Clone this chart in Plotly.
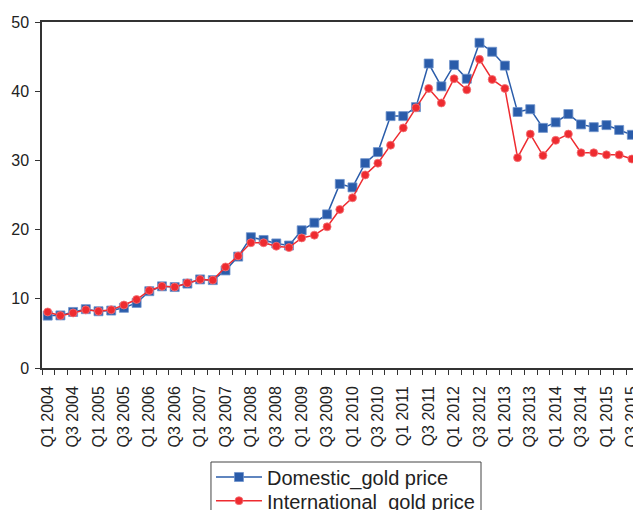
import plotly.graph_objects as go

years = list(range(2004, 2016))
quarters = [f"Q{q} {y}" for y in years for q in (1, 2, 3, 4)]

domestic = [
    7.57, 7.6, 8.1, 8.5,
    8.2, 8.3, 8.7, 9.4,
    11.1, 11.8, 11.7, 12.2,
    12.8, 12.7, 14.1, 16.1,
    18.9, 18.5, 18.0, 17.7,
    19.9, 21.0, 22.2, 26.6,
    26.1, 29.6, 31.2, 36.4,
    36.4, 37.7, 44.0, 40.7,
    43.8, 41.8, 47.0, 45.7,
    43.7, 37.0, 37.4, 34.7,
    35.5, 36.7, 35.2, 34.8,
    35.1, 34.4, 33.7, 32.0,
]
international = [
    8.1, 7.57, 7.96, 8.4,
    8.2, 8.4, 9.1, 9.9,
    11.2, 11.8, 11.7, 12.3,
    12.8, 12.7, 14.6, 16.2,
    18.1, 18.1, 17.6, 17.4,
    18.8, 19.2, 20.4, 22.9,
    24.6, 27.9, 29.6, 32.2,
    34.7, 37.6, 40.4, 38.3,
    41.8, 40.2, 44.6, 41.7,
    40.4, 30.4, 33.8, 30.7,
    32.9, 33.8, 31.1, 31.1,
    30.8, 30.8, 30.2, 28.8,
]
y_ticks = [0, 10, 20, 30, 40, 50]

idx = list(range(len(quarters)))
label_vals = [i for i in idx if i % 2 == 0]
label_text = [quarters[i] for i in label_vals]
tick_marks = [i - 0.45 for i in idx]

fig = go.Figure()
fig.add_trace(go.Scatter(
    x=idx, y=domestic, name="Domestic_gold price", mode="lines+markers",
    line=dict(color="#2A5CAA", width=1.5),
    marker=dict(symbol="square", size=9, color="#2A5CAA",
                line=dict(color="#6F93CC", width=0.8)),
    legend="legend",
))
fig.add_trace(go.Scatter(
    x=idx, y=international, name="International_gold price", mode="lines+markers",
    line=dict(color="#EE2B30", width=1.5),
    marker=dict(symbol="circle", size=8, color="#EE2B30",
                line=dict(color="#F47478", width=0.8)),
    legend="legend2",
))

leg_common = dict(
    xanchor="left", yanchor="middle",
    bgcolor="rgba(0,0,0,0)", borderwidth=0,
    font=dict(size=20, color="#222222"),
    itemwidth=46,
)

fig.update_layout(
    width=633, height=502,
    margin=dict(l=34, r=0, t=14, b=142, autoexpand=False),
    paper_bgcolor="white", plot_bgcolor="white",
    font=dict(family="Liberation Sans, Arial, sans-serif", color="#222222"),
    showlegend=True,
    legend=dict(x=0.2821, y=-0.315, **leg_common),
    legend2=dict(x=0.2821, y=-0.3835, **leg_common),
    shapes=[dict(
        type="rect", xref="paper", yref="paper",
        x0=0.2821, x1=0.7329, y0=-0.4538, y1=-0.2717,
        line=dict(color="#444444", width=1), fillcolor="rgba(0,0,0,0)",
        layer="below",
    )],
)
fig.update_xaxes(
    range=[-0.45, 46.72],
    tickmode="array", tickvals=label_vals, ticktext=label_text,
    tickangle=-90, tickfont=dict(size=16),
    ticks="", ticklen=5,
    minor=dict(tickmode="array", tickvals=tick_marks, ticks="outside",
               ticklen=5, tickwidth=1, tickcolor="#333333", showgrid=False),
    showline=True, linecolor="#333333", linewidth=1.5, mirror=True,
    showgrid=False, zeroline=False, ticklabelstandoff=10,
)
fig.update_yaxes(
    range=[0, 50], tickmode="array", tickvals=y_ticks,
    tickfont=dict(size=16),
    ticks="outside", ticklen=5, tickwidth=1, tickcolor="#333333",
    showline=True, linecolor="#333333", linewidth=1.5,
    showgrid=False, zeroline=False, ticklabelstandoff=3,
)

fig.write_html("out.html")
